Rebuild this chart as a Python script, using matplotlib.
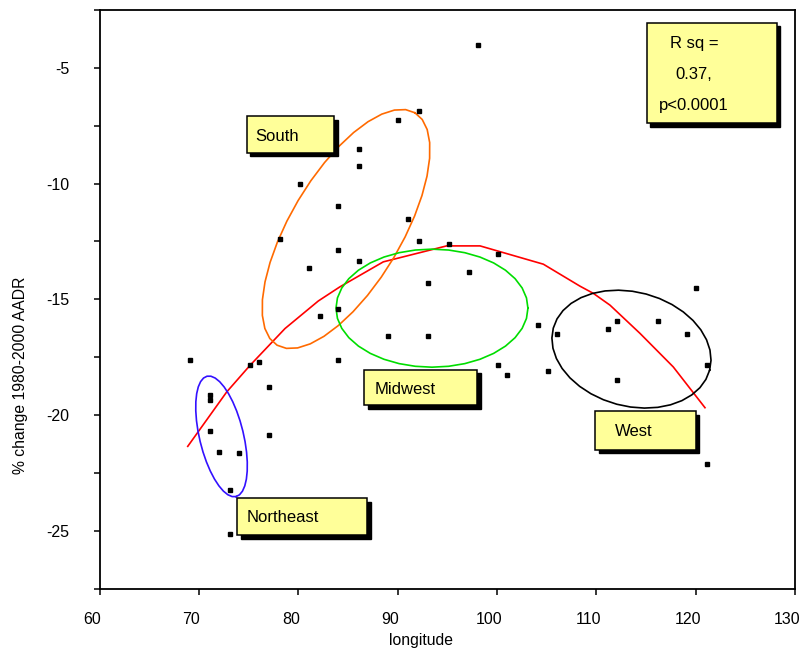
import numpy as np
import matplotlib
matplotlib.use("Agg")
import matplotlib.pyplot as plt
from matplotlib.patches import Rectangle
from matplotlib.ticker import MultipleLocator, FixedLocator
import matplotlib.transforms as mtransforms

plt.rcParams['font.family'] = ['Liberation Sans', 'DejaVu Sans']

# ---- data ----
longitude = [90.07, 86.12, 86.12, 80.18, 83.97, 78.17, 83.97, 86.12, 81.08, 83.97,
             82.19, 98.09, 92.16, 91.05, 92.16, 95.18, 100.07, 97.19, 93.06, 120.0,
             104.13, 112.08, 116.18, 111.18, 93.06, 106.05, 119.13, 100.07, 101.01, 105.14,
             121.14, 112.08, 121.14, 89.04, 69.11, 84.0, 75.12, 76.02, 77.03, 71.09,
             71.09, 71.09, 77.03, 72.0, 74.0, 73.1, 73.1]
pct_change = [-7.25, -8.49, -9.23, -10.0, -10.96, -12.38, -12.86, -13.33, -13.64, -15.41,
              -15.71, -3.99, -6.85, -11.53, -12.47, -12.60, -13.03, -13.81, -14.28, -14.50,
              -16.10, -15.93, -15.93, -16.26, -16.58, -16.5, -16.5, -17.83, -18.26, -18.09,
              -17.83, -18.48, -22.11, -16.58, -17.62, -17.62, -17.83, -17.70, -18.78, -19.14,
              -19.34, -20.69, -20.86, -21.59, -21.64, -23.24, -25.14]

# smoothed fit line
fit_x = [68.88, 72.80, 75.15, 78.67, 82.02, 84.19, 88.56, 94.94, 98.30, 104.67,
         108.36, 109.70, 111.38, 114.40, 117.75, 120.94]
fit_y = [-21.35, -19.0, -17.85, -16.26, -15.07, -14.46, -13.38, -12.69, -12.69, -13.48,
         -14.43, -14.74, -15.25, -16.47, -17.92, -19.68]

# region ellipses: centre, two conjugate semi-axis vectors (data units)
region_names = ['South', 'Midwest', 'Northeast', 'West']
region_colors = ['#FF6A00', '#00DD00', '#3311FF', '#000000']
region_center = [(84.81, -11.96), (93.46, -15.38), (72.28, -20.92), (113.54, -17.15)]
region_axis1 = [(6.94, 5.02), (9.66, 0.0), (1.46, -2.60), (7.87, -0.907)]
region_axis2 = [(4.82, -1.23), (0.0, 2.55), (2.15, 0.225), (-1.48, -2.38)]

# label boxes: (left, bottom, right, top) in data units, text anchor
box_extent = [(74.81, -8.66, 83.63, -7.08), (86.62, -19.58, 98.02, -18.03),
              (73.87, -25.20, 86.95, -23.59), (109.90, -21.49, 120.03, -19.84)]
box_text_pos = [(75.72, -7.97), (87.73, -18.90), (74.81, -24.43), (111.88, -20.70)]

stats_lines = ['R sq =', '0.37,', 'p<0.0001']
stats_box = (115.07, -7.39, 128.16, -3.04)
stats_x = 119.83
stats_y = [-3.96, -5.30, -6.64]

x_ticks = [60, 70, 80, 90, 100, 110, 120, 130]
y_major = [-25, -20, -15, -10, -5]

fig = plt.figure(figsize=(8, 6.55), dpi=100)
ax = fig.add_axes([0.1244, 0.1012, 0.99375 - 0.1244, 0.9847 - 0.1012])
ax.set_xlim(60, 130)
ax.set_ylim(-27.5, -2.5)

# fit line
ax.plot(fit_x, fit_y, color='#FF0000', lw=1.2, zorder=3)

# ellipses
t = np.linspace(0, 2 * np.pi, 37)
for c, a1, a2, col in zip(region_center, region_axis1, region_axis2, region_colors):
    ex = c[0] + a1[0] * np.cos(t) + a2[0] * np.sin(t)
    ey = c[1] + a1[1] * np.cos(t) + a2[1] * np.sin(t)
    ax.plot(ex, ey, color=col, lw=1.2, zorder=3)

# points
ax.plot(longitude, pct_change, linestyle='none', marker='s', markersize=2.9,
        color='black', zorder=4)

# boxes with shadow
shadow_tr = mtransforms.offset_copy(ax.transData, fig=fig, x=3.5, y=-3.5, units='dots')

def draw_box(l, b, r, tp):
    ax.add_patch(Rectangle((l, b), r - l, tp - b, transform=shadow_tr,
                           facecolor='black', edgecolor='black', lw=1.0, zorder=5))
    ax.add_patch(Rectangle((l, b), r - l, tp - b, facecolor='#FFFF99',
                           edgecolor='black', lw=1.1, zorder=6))

for (l, b, r, tp), name, (tx, ty) in zip(box_extent, region_names, box_text_pos):
    draw_box(l, b, r, tp)
    ax.text(tx, ty, name, fontsize=12, ha='left', va='center', color='black', zorder=7)

draw_box(*stats_box)
for line, yy in zip(stats_lines, stats_y):
    ax.text(stats_x, yy, line, fontsize=12, ha='center', va='center', color='black', zorder=7)

# axes styling
ax.xaxis.set_major_locator(FixedLocator(x_ticks))
ax.yaxis.set_major_locator(FixedLocator(y_major))
ax.yaxis.set_minor_locator(MultipleLocator(2.5))
ax.tick_params(axis='both', which='both', direction='out', length=4.5, width=1.1,
               top=False, right=False, labelsize=11.5)
ax.tick_params(axis='x', pad=12.5)
ax.tick_params(axis='y', pad=17)
ax.set_xticklabels([str(v) for v in x_ticks])
ax.set_yticklabels([str(v) for v in y_major])
shift = mtransforms.ScaledTranslation(-7.5 / 100, 0, fig.dpi_scale_trans)
for lab in ax.get_xticklabels():
    lab.set_transform(lab.get_transform() + shift)
for s in ax.spines.values():
    s.set_linewidth(1.3)

fig.text(421.3 / 800, 1 - 641 / 655, 'longitude', fontsize=11.3, ha='center', va='center')
fig.text(21 / 800, 1 - 375 / 655, '% change 1980-2000 AADR', fontsize=11.3,
         rotation=90, ha='center', va='center')

fig.savefig('out.png', dpi=100)
